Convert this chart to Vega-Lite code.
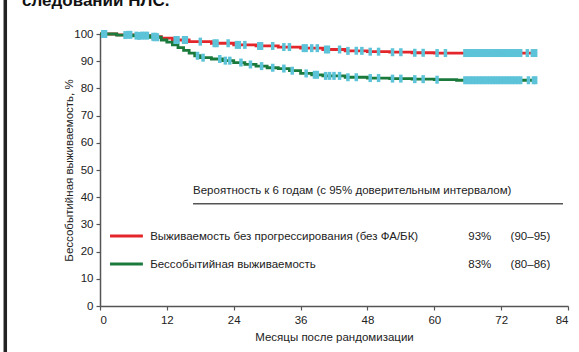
{
  "$schema": "https://vega.github.io/schema/vega-lite/v6.json",
  "width": 468,
  "height": 272,
  "autosize": "none",
  "padding": {"left": 100, "top": 34, "right": 11, "bottom": 46},
  "background": "white",
  "config": {
    "view": {"stroke": null},
    "font": "Liberation Sans",
    "axis": {"grid": false, "domainColor": "#555", "domainWidth": 1.5, "tickColor": "#555", "tickWidth": 1.2, "tickSize": 4, "labelFont": "Liberation Sans", "labelFontSize": 11.5, "labelColor": "#222", "labelOverlap": false, "titleFont": "Liberation Sans", "titleFontSize": 11.5, "titleFontWeight": "normal", "titleColor": "#222"}
  },
  "datasets": {
    "curves": [
      {"series": "PFS", "x": 0, "y": 100}, {"series": "PFS", "x": 3, "y": 99.7}, {"series": "PFS", "x": 6, "y": 99.4}, {"series": "PFS", "x": 9, "y": 99}, {"series": "PFS", "x": 11, "y": 98.5}, {"series": "PFS", "x": 13, "y": 97.8}, {"series": "PFS", "x": 16, "y": 97.2}, {"series": "PFS", "x": 20, "y": 96.6}, {"series": "PFS", "x": 24, "y": 96}, {"series": "PFS", "x": 28, "y": 95.6}, {"series": "PFS", "x": 32, "y": 95.2}, {"series": "PFS", "x": 36, "y": 94.8}, {"series": "PFS", "x": 40, "y": 94.3}, {"series": "PFS", "x": 44, "y": 93.8}, {"series": "PFS", "x": 48, "y": 93.5}, {"series": "PFS", "x": 52, "y": 93.3}, {"series": "PFS", "x": 56, "y": 93.1}, {"series": "PFS", "x": 60, "y": 93}, {"series": "PFS", "x": 78.4, "y": 93},
      {"series": "EFS", "x": 0, "y": 100}, {"series": "EFS", "x": 3, "y": 99.6}, {"series": "EFS", "x": 6, "y": 99.3}, {"series": "EFS", "x": 9, "y": 98.8}, {"series": "EFS", "x": 11, "y": 97.8}, {"series": "EFS", "x": 12, "y": 97}, {"series": "EFS", "x": 13, "y": 96}, {"series": "EFS", "x": 14, "y": 95}, {"series": "EFS", "x": 15, "y": 94}, {"series": "EFS", "x": 16, "y": 93}, {"series": "EFS", "x": 17, "y": 92}, {"series": "EFS", "x": 18, "y": 91.3}, {"series": "EFS", "x": 20, "y": 90.8}, {"series": "EFS", "x": 22, "y": 90.2}, {"series": "EFS", "x": 24, "y": 89.5}, {"series": "EFS", "x": 26, "y": 88.8}, {"series": "EFS", "x": 28, "y": 88.2}, {"series": "EFS", "x": 30, "y": 87.6}, {"series": "EFS", "x": 32, "y": 87.3}, {"series": "EFS", "x": 34, "y": 86.5}, {"series": "EFS", "x": 36, "y": 85.5}, {"series": "EFS", "x": 38, "y": 85}, {"series": "EFS", "x": 40, "y": 84.6}, {"series": "EFS", "x": 44, "y": 84.1}, {"series": "EFS", "x": 48, "y": 83.8}, {"series": "EFS", "x": 52, "y": 83.6}, {"series": "EFS", "x": 56, "y": 83.4}, {"series": "EFS", "x": 60, "y": 83.2}, {"series": "EFS", "x": 64, "y": 83}, {"series": "EFS", "x": 78.4, "y": 83}
    ],
    "censors": [
      {"x": 0.5, "y": 100}, {"x": 1, "y": 100}, {"x": 5, "y": 99.7}, {"x": 5.5, "y": 99.7}, {"x": 6.5, "y": 99.4}, {"x": 7.5, "y": 99.4}, {"x": 8, "y": 99.4}, {"x": 8.5, "y": 99.4}, {"x": 9.5, "y": 99}, {"x": 10, "y": 99}, {"x": 13.5, "y": 97.8}, {"x": 14, "y": 97.8}, {"x": 15, "y": 97.8}, {"x": 15.5, "y": 97.8}, {"x": 18, "y": 97.2}, {"x": 20.5, "y": 96.6}, {"x": 21, "y": 96.6}, {"x": 23, "y": 96.6}, {"x": 24.5, "y": 96}, {"x": 25, "y": 96}, {"x": 26, "y": 96}, {"x": 28.5, "y": 95.6}, {"x": 29, "y": 95.6}, {"x": 31, "y": 95.6}, {"x": 33, "y": 95.2}, {"x": 34, "y": 95.2}, {"x": 36.5, "y": 94.8}, {"x": 37, "y": 94.8}, {"x": 38, "y": 94.8}, {"x": 39, "y": 94.8}, {"x": 40.5, "y": 94.3}, {"x": 41, "y": 94.3}, {"x": 43, "y": 94.3}, {"x": 44.5, "y": 93.8}, {"x": 46, "y": 93.8}, {"x": 47, "y": 93.8}, {"x": 48.5, "y": 93.5}, {"x": 50, "y": 93.5}, {"x": 52.5, "y": 93.3}, {"x": 54, "y": 93.3}, {"x": 56.5, "y": 93.1}, {"x": 58, "y": 93.1}, {"x": 60.5, "y": 93}, {"x": 62, "y": 93},
      {"x": 65.5, "y": 93}, {"x": 66, "y": 93}, {"x": 66.5, "y": 93}, {"x": 67, "y": 93}, {"x": 67.5, "y": 93}, {"x": 68, "y": 93}, {"x": 68.5, "y": 93}, {"x": 69, "y": 93}, {"x": 69.5, "y": 93}, {"x": 70, "y": 93}, {"x": 70.5, "y": 93}, {"x": 71, "y": 93}, {"x": 71.5, "y": 93}, {"x": 72, "y": 93}, {"x": 72.5, "y": 93}, {"x": 73, "y": 93}, {"x": 73.5, "y": 93}, {"x": 74, "y": 93}, {"x": 74.5, "y": 93}, {"x": 75, "y": 93}, {"x": 75.5, "y": 93}, {"x": 76.7, "y": 93}, {"x": 77.6, "y": 93}, {"x": 78.2, "y": 93},
      {"x": 4.5, "y": 99.6}, {"x": 7, "y": 99.3}, {"x": 9.7, "y": 98.8}, {"x": 10.3, "y": 98.8}, {"x": 17.5, "y": 92}, {"x": 18.5, "y": 91.3}, {"x": 21.5, "y": 90.8}, {"x": 22.5, "y": 90.2}, {"x": 23.3, "y": 90.2}, {"x": 25.3, "y": 89.5}, {"x": 27, "y": 88.8}, {"x": 29, "y": 88.2}, {"x": 31, "y": 87.6}, {"x": 33, "y": 87.3}, {"x": 34.5, "y": 86.5}, {"x": 37, "y": 85.5}, {"x": 38.5, "y": 85}, {"x": 39, "y": 85}, {"x": 40.5, "y": 84.6}, {"x": 41.2, "y": 84.6}, {"x": 42, "y": 84.6}, {"x": 43, "y": 84.6}, {"x": 44.5, "y": 84.1}, {"x": 46, "y": 84.1}, {"x": 48.5, "y": 83.8}, {"x": 50, "y": 83.8}, {"x": 52.5, "y": 83.6}, {"x": 54, "y": 83.6}, {"x": 56.5, "y": 83.4}, {"x": 58, "y": 83.4}, {"x": 60.5, "y": 83.2},
      {"x": 65.5, "y": 83}, {"x": 66, "y": 83}, {"x": 66.5, "y": 83}, {"x": 67, "y": 83}, {"x": 67.5, "y": 83}, {"x": 68, "y": 83}, {"x": 68.5, "y": 83}, {"x": 69, "y": 83}, {"x": 69.5, "y": 83}, {"x": 70, "y": 83}, {"x": 70.5, "y": 83}, {"x": 71, "y": 83}, {"x": 71.5, "y": 83}, {"x": 72, "y": 83}, {"x": 72.5, "y": 83}, {"x": 73, "y": 83}, {"x": 73.5, "y": 83}, {"x": 74, "y": 83}, {"x": 74.5, "y": 83}, {"x": 75, "y": 83}, {"x": 75.5, "y": 83}, {"x": 76.9, "y": 83}, {"x": 77.8, "y": 83}, {"x": 78.2, "y": 83}
    ],
    "legendLines": [
      {"series": "PFS", "x": 1.8, "x2": 7.7, "y": 25.7},
      {"series": "EFS", "x": 1.8, "x2": 7.7, "y": 15.4}
    ],
    "labels": [
      {"x": 16.7, "y": 42.3, "text": "Вероятность к 6 годам (с 95% доверительным интервалом)"},
      {"x": 9.0, "y": 25.4, "text": "Выживаемость без прогрессирования (без ФА/БК)"},
      {"x": 66.1, "y": 25.4, "text": "93%"},
      {"x": 73.7, "y": 25.4, "text": "(90–95)"},
      {"x": 9.0, "y": 15.1, "text": "Бессобытийная выживаемость"},
      {"x": 66.1, "y": 15.1, "text": "83%"},
      {"x": 73.7, "y": 15.1, "text": "(80–86)"}
    ],
    "heading": [{"x": -14, "y": 110.3, "text": "следовании НЛС."}],
    "underline": [{"x": 16.7, "x2": 83.1, "y": 37.6}],
    "border": [{"x": -17, "y": 113, "y2": -18}]
  },
  "encoding": {
    "x": {"field": "x", "type": "quantitative", "scale": {"domain": [0, 84], "nice": false}, "axis": {"values": [0, 12, 24, 36, 48, 60, 72, 84], "title": "Месяцы после рандомизации", "titlePadding": 6, "labelPadding": 4}},
    "y": {"field": "y", "type": "quantitative", "scale": {"domain": [0, 100], "nice": false}, "axis": {"values": [0, 10, 20, 30, 40, 50, 60, 70, 80, 90, 100], "title": "Бессобытийная выживаемость, %", "titlePadding": -1, "labelPadding": 3}}
  },
  "layer": [
    {
      "data": {"name": "curves"},
      "mark": {"type": "line", "interpolate": "step-after", "strokeWidth": 2.8},
      "encoding": {
        "color": {"field": "series", "type": "nominal", "scale": {"domain": ["PFS", "EFS"], "range": ["#e3262b", "#1a7a3c"]}, "legend": null},
        "order": {"field": "x"}
      }
    },
    {
      "data": {"name": "censors"},
      "mark": {"type": "tick", "orient": "vertical", "color": "#5cc3d8", "thickness": 3.5, "size": 8, "opacity": 1}
    },
    {
      "data": {"name": "legendLines"},
      "mark": {"type": "rule", "strokeWidth": 3},
      "encoding": {
        "x2": {"field": "x2"},
        "color": {"field": "series", "type": "nominal", "legend": null}
      }
    },
    {
      "data": {"name": "labels"},
      "mark": {"type": "text", "align": "left", "baseline": "middle", "font": "Liberation Sans", "fontSize": 11.5, "color": "#222"},
      "encoding": {
        "text": {"field": "text"}
      }
    },
    {
      "data": {"name": "heading"},
      "mark": {"type": "text", "align": "left", "baseline": "alphabetic", "font": "Liberation Sans", "fontSize": 17, "fontWeight": "bold", "color": "#111"},
      "encoding": {
        "text": {"field": "text"}
      }
    },
    {
      "data": {"name": "underline"},
      "mark": {"type": "rule", "strokeWidth": 1.5, "color": "#555"},
      "encoding": {
        "x2": {"field": "x2"}
      }
    },
    {
      "data": {"name": "border"},
      "mark": {"type": "rule", "strokeWidth": 3.5, "color": "#222"},
      "encoding": {
        "y2": {"field": "y2"}
      }
    }
  ]
}
